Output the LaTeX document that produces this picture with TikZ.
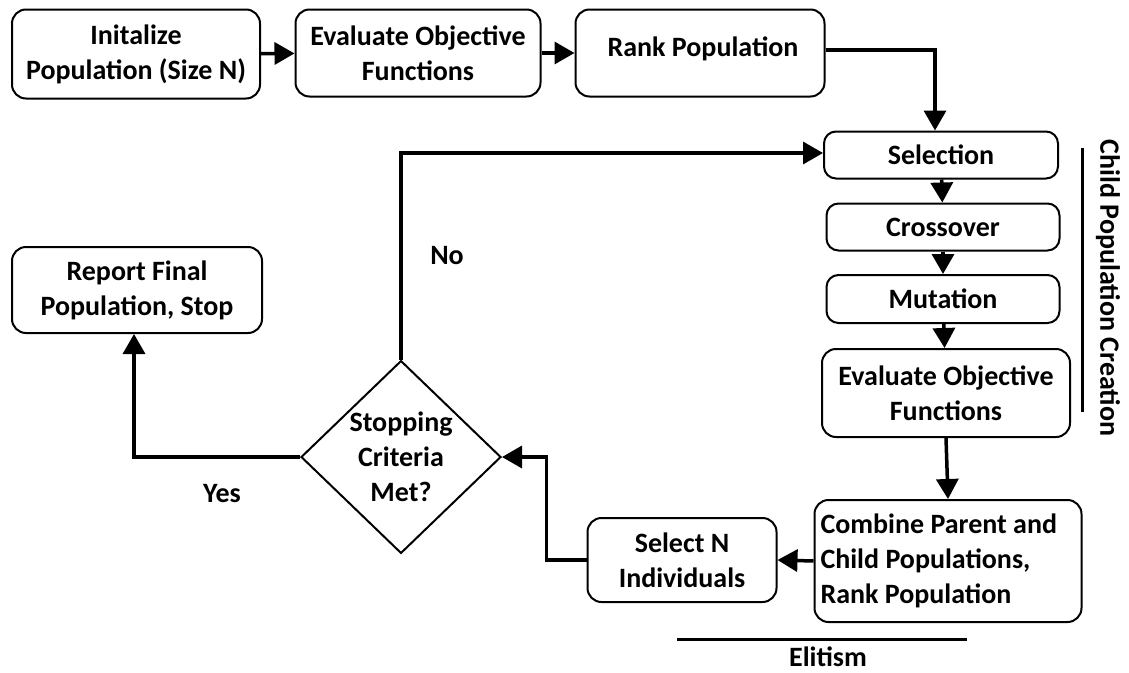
\documentclass[tikz,border=0pt]{standalone}
\usepackage{fontspec}
\setmainfont{Carlito}
\usetikzlibrary{arrows.meta,shapes.geometric}

\begin{document}
\begin{tikzpicture}[x=1pt,y=-1pt,
  lbl/.style={font=\bfseries\fontsize{28}{35}\selectfont, align=center, inner sep=0pt},
  box/.style={lbl, draw, line width=2pt, rounded corners=14pt},
  smallbox/.style={lbl, draw, line width=2pt, rounded corners=12pt},
  decision/.style={lbl, draw, line width=2pt, diamond, minimum width=200pt, minimum height=184pt},
  conn/.style={line width=3.5pt, -{Triangle[length=20pt,width=22pt]}},
  bar/.style={line width=3pt}
]
\useasboundingbox (0,0) rectangle (1129,672);

% top row
\node[box, minimum width=248pt, minimum height=89pt] (init) at (136,54) {Initalize\\Population (Size N)};
\node[box, minimum width=245pt, minimum height=87pt] (ev1) at (418,53) {Evaluate Objective\\Functions};
\node[box, minimum width=249pt, minimum height=87pt] (rank) at (700,53) {};
\node[lbl] (ranktxt) at (703,49) {Rank Population};

% child population creation column
\node[smallbox, minimum width=234pt, minimum height=47pt] (sel) at (941,155) {Selection};
\node[smallbox, minimum width=233pt, minimum height=47pt] (cro) at (943,227) {Crossover};
\node[smallbox, minimum width=233pt, minimum height=48pt] (mut) at (943,299) {Mutation};
\node[box, minimum width=248pt, minimum height=88pt] (ev2) at (946,393) {Evaluate Objective\\Functions};

% elitism row
\node[box, align=flush left, minimum width=267pt, minimum height=122pt, text width=255pt] (comb) at (948,561) {Combine Parent and\\Child Populations,\\Rank Population};
\node[box, minimum width=189pt, minimum height=84pt] (seln) at (682,560) {Select N\\Individuals};

% decision and end
\node[decision] (stop) at (401,457) {Stopping\\Criteria\\Met?};
\node[box, minimum width=250pt, minimum height=86pt] (rep) at (137,290) {Report Final\\Population, Stop};

% flow connectors
\draw[conn] (init) -- (ev1);
\draw[conn] (ev1) -- (rank);
\draw[conn] ([yshift=3pt]rank.east) -| ([xshift=-6pt]sel.north);
\draw[conn] (sel) -- (cro);
\draw[conn] (cro) -- (mut);
\draw[conn] (mut) -- (ev2);
\draw[conn] (ev2.south) -- (comb.north);
\draw[conn] (comb.west) -- (seln.east);
\draw[conn] (seln.west) -- ++(-40,0) |- (stop.east);
\draw[conn] (stop.west) -| ([xshift=-3pt]rep.south);
\draw[conn] (stop.north) |- ([yshift=2pt]sel.west);

% branch labels
\node[lbl] (no) at (447,256) {No};
\node[lbl] (yes) at (222,494) {Yes};

% group annotations
\draw[bar] (1082,148) -- (1082,412);
\node[lbl, rotate=-90] (child) at (1108,288) {Child Population Creation};
\draw[bar] (677,639) -- (967,639);
\node[lbl] (elit) at (828,657) {Elitism};
\end{tikzpicture}
\end{document}
